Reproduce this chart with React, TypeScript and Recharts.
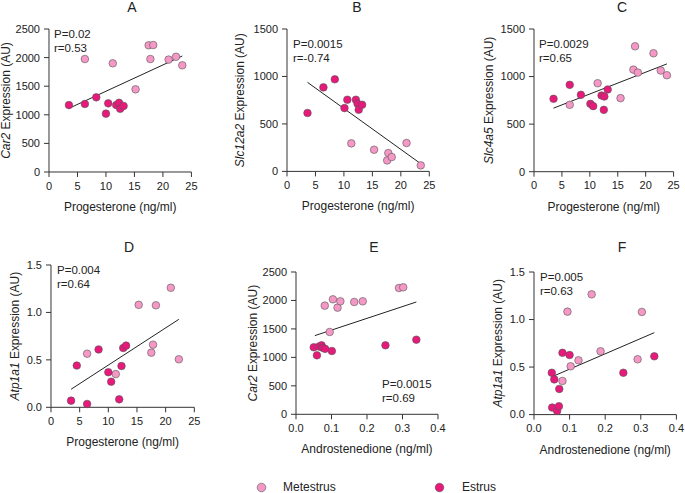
import React from 'react';
import { ScatterChart, Scatter, XAxis, YAxis, ReferenceLine } from 'recharts';

// ---- data ----
type Pt = { x: number; y: number };

// A: Car2 vs progesterone
const aMetestrus: Pt[] = [
  { x: 6.3, y: 1975 }, { x: 11.2, y: 1900 }, { x: 15.2, y: 1445 }, { x: 17.5, y: 2215 },
  { x: 18.3, y: 2220 }, { x: 17.8, y: 1975 }, { x: 21.0, y: 1965 }, { x: 22.3, y: 2015 },
  { x: 23.4, y: 1865 },
];
const aEstrus: Pt[] = [
  { x: 3.5, y: 1170 }, { x: 6.3, y: 1190 }, { x: 8.3, y: 1305 }, { x: 10.4, y: 1200 },
  { x: 10.0, y: 1020 }, { x: 11.8, y: 1170 }, { x: 12.3, y: 1210 }, { x: 12.5, y: 1105 },
  { x: 13.1, y: 1155 },
];
const aFit: Pt[] = [{ x: 3.5, y: 1113 }, { x: 23.4, y: 2028 }];

// B: Slc12a2 vs progesterone
const bMetestrus: Pt[] = [
  { x: 11.3, y: 295 }, { x: 15.3, y: 228 }, { x: 17.8, y: 193 }, { x: 17.6, y: 116 },
  { x: 18.4, y: 151 }, { x: 21.0, y: 299 }, { x: 23.5, y: 63 },
];
const bEstrus: Pt[] = [
  { x: 3.6, y: 615 }, { x: 6.4, y: 885 }, { x: 8.4, y: 970 }, { x: 10.1, y: 667 },
  { x: 10.6, y: 755 }, { x: 12.1, y: 755 }, { x: 12.4, y: 713 }, { x: 12.6, y: 650 },
  { x: 13.2, y: 702 },
];
const bFit: Pt[] = [{ x: 3.6, y: 938 }, { x: 23.5, y: 81 }];

// C: Slc4a5 vs progesterone
const cMetestrus: Pt[] = [
  { x: 6.4, y: 703 }, { x: 11.4, y: 930 }, { x: 15.5, y: 773 }, { x: 17.8, y: 1073 },
  { x: 18.1, y: 1318 }, { x: 18.6, y: 1042 }, { x: 21.4, y: 1245 }, { x: 22.7, y: 1063 },
  { x: 23.8, y: 1014 },
];
const cEstrus: Pt[] = [
  { x: 3.5, y: 766 }, { x: 6.4, y: 913 }, { x: 8.4, y: 808 }, { x: 10.1, y: 713 },
  { x: 10.6, y: 689 }, { x: 12.1, y: 801 }, { x: 12.6, y: 790 }, { x: 12.5, y: 650 },
  { x: 13.2, y: 864 },
];
const cFit: Pt[] = [{ x: 3.5, y: 668 }, { x: 23.8, y: 1133 }];

// D: Atp1a1 vs progesterone
const dMetestrus: Pt[] = [
  { x: 6.3, y: 0.565 }, { x: 11.3, y: 0.35 }, { x: 15.3, y: 1.08 }, { x: 17.5, y: 0.576 },
  { x: 17.8, y: 0.66 }, { x: 18.3, y: 1.075 }, { x: 20.9, y: 1.26 }, { x: 22.3, y: 0.506 },
];
const dEstrus: Pt[] = [
  { x: 3.5, y: 0.07 }, { x: 4.5, y: 0.44 }, { x: 6.3, y: 0.035 }, { x: 8.3, y: 0.61 },
  { x: 10.0, y: 0.37 }, { x: 10.5, y: 0.27 }, { x: 11.9, y: 0.084 }, { x: 12.3, y: 0.435 },
  { x: 12.6, y: 0.625 }, { x: 13.1, y: 0.65 },
];
const dFit: Pt[] = [{ x: 3.5, y: 0.19 }, { x: 22.3, y: 0.927 }];

// E: Car2 vs androstenedione
const eMetestrus: Pt[] = [
  { x: 0.081, y: 1909 }, { x: 0.104, y: 2020 }, { x: 0.117, y: 1874 }, { x: 0.125, y: 1985 },
  { x: 0.095, y: 1446 }, { x: 0.164, y: 1973 }, { x: 0.188, y: 1985 }, { x: 0.29, y: 2219 },
  { x: 0.302, y: 2231 },
];
const eEstrus: Pt[] = [
  { x: 0.05, y: 1177 }, { x: 0.059, y: 1036 }, { x: 0.065, y: 1190 }, { x: 0.072, y: 1212 },
  { x: 0.075, y: 1170 }, { x: 0.082, y: 1150 }, { x: 0.101, y: 1112 }, { x: 0.252, y: 1212 },
  { x: 0.339, y: 1311 },
];
const eFit: Pt[] = [{ x: 0.053, y: 1382 }, { x: 0.339, y: 1973 }];

// F: Atp1a1 vs androstenedione
const fMetestrus: Pt[] = [
  { x: 0.08, y: 0.354 }, { x: 0.094, y: 1.083 }, { x: 0.103, y: 0.508 }, { x: 0.125, y: 0.571 },
  { x: 0.162, y: 1.265 }, { x: 0.187, y: 0.666 }, { x: 0.291, y: 0.582 }, { x: 0.303, y: 1.08 },
];
const fEstrus: Pt[] = [
  { x: 0.05, y: 0.44 }, { x: 0.057, y: 0.37 }, { x: 0.051, y: 0.074 }, { x: 0.065, y: 0.039 },
  { x: 0.07, y: 0.088 }, { x: 0.071, y: 0.27 }, { x: 0.08, y: 0.65 }, { x: 0.1, y: 0.627 },
  { x: 0.251, y: 0.44 }, { x: 0.338, y: 0.613 },
];
const fFit: Pt[] = [{ x: 0.056, y: 0.407 }, { x: 0.338, y: 0.862 }];

const progTicks = [0, 5, 10, 15, 20, 25];
const androTicks = [0, 0.1, 0.2, 0.3, 0.4];
const car2Ticks = [0, 500, 1000, 1500, 2000, 2500];
const smallTicks = [0, 500, 1000, 1500];
const atpTicks = [0, 0.5, 1.0, 1.5];

const METESTRUS = '#f598c6';
const ESTRUS = '#e8197b';
const FONT = 'Arial, "Liberation Sans", Helvetica, sans-serif';
const AXIS = '#333';

const dot = (fill: string) => (props: any) => (
  <circle cx={props.cx} cy={props.cy} r={3.8} fill={fill} stroke="#555" strokeWidth={0.6} />
);

interface PanelProps {
  title: string;
  titleX: number;
  titleY: number;
  plot: [number, number, number, number]; // x0, x1, y0, y1 in page px
  gene: string;
  xLabel: string;
  xTicks: number[];
  yTicks: number[];
  xFmt?: (v: number) => string;
  yFmt?: (v: number) => string;
  yLabelOffset: number;
  metestrus: Pt[];
  estrus: Pt[];
  fit: Pt[];
  stats: [string, string];
  statsX: number;
  statsY: number;
}

function Panel(p: PanelProps) {
  const [x0, x1, y0, y1] = p.plot;
  const yW = 62;
  const top = 10;
  const right = 10;
  const bottom = 50;
  const w = x1 - x0 + yW + right;
  const h = y1 - y0 + top + bottom;
  const xDom: [number, number] = [p.xTicks[0], p.xTicks[p.xTicks.length - 1]];
  const yDom: [number, number] = [p.yTicks[0], p.yTicks[p.yTicks.length - 1]];
  const tick = { fill: '#222', fontSize: 11, fontFamily: FONT };

  return (
    <>
      <div style={{ position: 'absolute', left: p.titleX - 20, top: p.titleY - 7, width: 40, lineHeight: '15px', textAlign: 'center', fontSize: 14, fontFamily: FONT, color: '#222' }}>
        {p.title}
      </div>
      <div style={{ position: 'absolute', left: x0 - yW, top: y0 - top }}>
        <ScatterChart width={w} height={h} margin={{ top, right, left: 0, bottom: bottom - 20 }}>
          <XAxis
            type="number"
            dataKey="x"
            domain={xDom}
            ticks={p.xTicks}
            tickFormatter={p.xFmt}
            height={20}
            stroke={AXIS}
            tickSize={5}
            tickMargin={5}
            tick={tick}
            label={{
              content: (lp: any) => {
                const vb = lp.viewBox || { x: 0, y: 0, width: 0 };
                return (
                  <text x={vb.x + vb.width / 2} y={vb.y + 39} textAnchor="middle" fontSize={12} fontFamily={FONT} fill="#222">
                    {p.xLabel}
                  </text>
                );
              },
            }}
          />
          <YAxis
            type="number"
            dataKey="y"
            domain={yDom}
            ticks={p.yTicks}
            tickFormatter={p.yFmt}
            width={yW}
            stroke={AXIS}
            tickSize={5}
            tickMargin={4}
            tick={tick}
            label={{
              content: (lp: any) => {
                const vb = lp.viewBox || { x: 0, y: 0, width: 0, height: 0 };
                const cx = vb.x + vb.width - p.yLabelOffset;
                const cy = vb.y + vb.height / 2;
                return (
                  <text x={cx} y={cy} transform={`rotate(-90 ${cx} ${cy})`} textAnchor="middle" dominantBaseline="central" fontSize={12} fontFamily={FONT} fill="#222">
                    <tspan fontStyle="italic">{p.gene}</tspan>
                    <tspan> Expression (AU)</tspan>
                  </text>
                );
              },
            }}
          />
          <ReferenceLine
            segment={[{ x: p.fit[0].x, y: p.fit[0].y }, { x: p.fit[1].x, y: p.fit[1].y }]}
            stroke="#222"
            strokeWidth={1}
          />
          <Scatter data={p.metestrus} shape={dot(METESTRUS)} isAnimationActive={false} />
          <Scatter data={p.estrus} shape={dot(ESTRUS)} isAnimationActive={false} />
        </ScatterChart>
      </div>
      <div style={{ position: 'absolute', left: p.statsX, top: p.statsY, fontSize: 11.5, lineHeight: '14px', fontFamily: FONT, color: '#222' }}>
        <div>{p.stats[0]}</div>
        <div>{p.stats[1]}</div>
      </div>
    </>
  );
}

const oneDec = (v: number) => v.toFixed(1);

export default function App() {
  return (
    <div style={{ position: 'absolute', left: 0, top: 0, width: 685, height: 493, background: '#fff', overflow: 'hidden' }}>
      <Panel title="A" titleX={132} titleY={7} plot={[49.3, 191.7, 29.3, 172.3]} gene="Car2" xLabel="Progesterone (ng/ml)"
        xTicks={progTicks} yTicks={car2Ticks} yLabelOffset={43} metestrus={aMetestrus} estrus={aEstrus} fit={aFit}
        stats={['P=0.02', 'r=0.53']} statsX={54} statsY={27} />
      <Panel title="B" titleX={357} titleY={7} plot={[286.7, 429, 29.3, 171.7]} gene="Slc12a2" xLabel="Progesterone (ng/ml)"
        xTicks={progTicks} yTicks={smallTicks} yLabelOffset={46.5} metestrus={bMetestrus} estrus={bEstrus} fit={bFit}
        stats={['P=0.0015', 'r=-0.74']} statsX={293} statsY={37} />
      <Panel title="C" titleX={622} titleY={7} plot={[533.7, 673.3, 29.3, 172]} gene="Slc4a5" xLabel="Progesterone (ng/ml)"
        xTicks={progTicks} yTicks={smallTicks} yLabelOffset={45.5} metestrus={cMetestrus} estrus={cEstrus} fit={cFit}
        stats={['P=0.0029', 'r=0.65']} statsX={539} statsY={37} />
      <Panel title="D" titleX={129} titleY={246.7} plot={[50.7, 194, 265, 407.3]} gene="Atp1a1" xLabel="Progesterone (ng/ml)"
        xTicks={progTicks} yTicks={atpTicks} yFmt={oneDec} yLabelOffset={36} metestrus={dMetestrus} estrus={dEstrus} fit={dFit}
        stats={['P=0.004', 'r=0.64']} statsX={57} statsY={263} />
      <Panel title="E" titleX={374} titleY={246.7} plot={[295.7, 437.7, 271.7, 414]} gene="Car2" xLabel="Androstenedione (ng/ml)"
        xTicks={androTicks} yTicks={car2Ticks} xFmt={oneDec} yLabelOffset={42.5} metestrus={eMetestrus} estrus={eEstrus} fit={eFit}
        stats={['P=0.0015', 'r=0.69']} statsX={382} statsY={377} />
      <Panel title="F" titleX={622} titleY={246.7} plot={[534.3, 676.7, 271.7, 414.3]} gene="Atp1a1" xLabel="Androstenedione (ng/ml)"
        xTicks={androTicks} yTicks={atpTicks} xFmt={oneDec} yFmt={oneDec} yLabelOffset={36} metestrus={fMetestrus} estrus={fEstrus} fit={fFit}
        stats={['P=0.005', 'r=0.63']} statsX={540} statsY={270} />

      {/* legend */}
      <div style={{ position: 'absolute', top: 480, left: 256, display: 'flex', alignItems: 'center', fontFamily: FONT, fontSize: 12, color: '#222' }}>
        <svg width={11} height={11}><circle cx={5.5} cy={5.5} r={4.3} fill={METESTRUS} stroke="#555" strokeWidth={0.6} /></svg>
        <span style={{ marginLeft: 16 }}>Metestrus</span>
      </div>
      <div style={{ position: 'absolute', top: 480, left: 434, display: 'flex', alignItems: 'center', fontFamily: FONT, fontSize: 12, color: '#222' }}>
        <svg width={11} height={11}><circle cx={5.5} cy={5.5} r={4.3} fill={ESTRUS} stroke="#555" strokeWidth={0.6} /></svg>
        <span style={{ marginLeft: 17 }}>Estrus</span>
      </div>
    </div>
  );
}
